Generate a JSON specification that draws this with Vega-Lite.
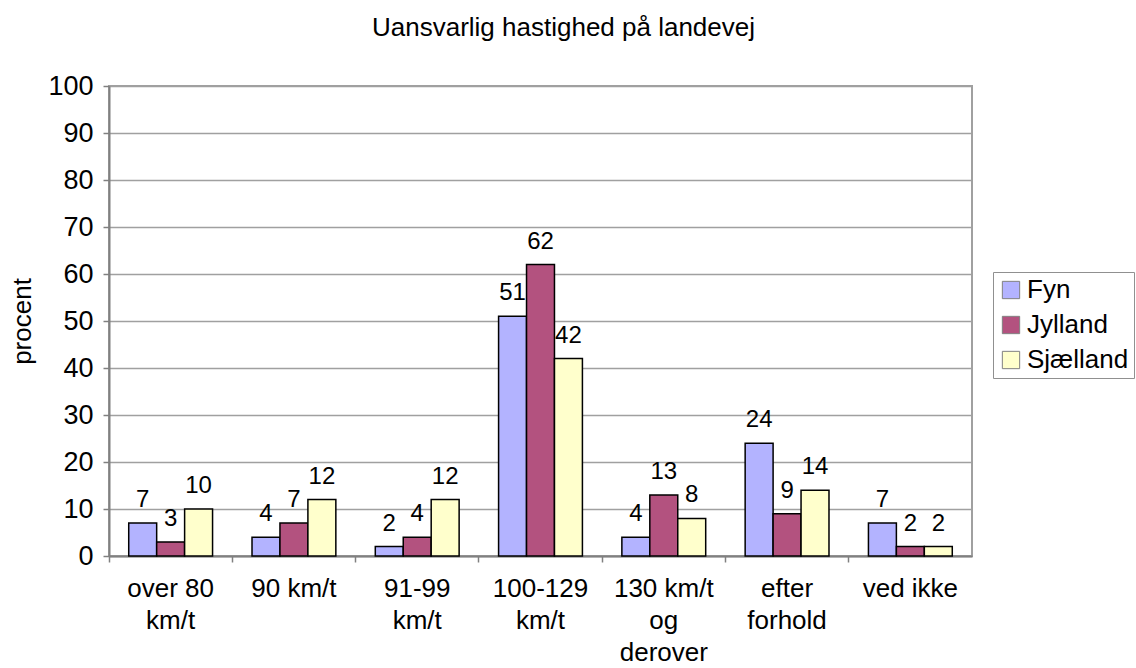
{
  "$schema": "https://vega.github.io/schema/vega-lite/v6.json",
  "autosize": "none",
  "width": 863,
  "height": 470,
  "padding": {"left": 109, "top": 86, "right": 164, "bottom": 112},
  "background": "white",
  "config": {
    "font": "Liberation Sans",
    "view": {"stroke": "#a0a0a0", "strokeWidth": 2}
  },
  "title": {
    "text": "Uansvarlig hastighed på landevej",
    "fontSize": 26,
    "fontWeight": "normal",
    "font": "Liberation Sans",
    "color": "#000000",
    "anchor": "middle",
    "dx": 23,
    "offset": 31
  },
  "resolve": {"axis": {"x": "independent"}},
  "data": {
    "values": [
      {"cat": "over 80|km/t", "region": "Fyn", "value": 7},
      {"cat": "over 80|km/t", "region": "Jylland", "value": 3},
      {"cat": "over 80|km/t", "region": "Sjælland", "value": 10},
      {"cat": "90 km/t", "region": "Fyn", "value": 4},
      {"cat": "90 km/t", "region": "Jylland", "value": 7},
      {"cat": "90 km/t", "region": "Sjælland", "value": 12},
      {"cat": "91-99|km/t", "region": "Fyn", "value": 2},
      {"cat": "91-99|km/t", "region": "Jylland", "value": 4},
      {"cat": "91-99|km/t", "region": "Sjælland", "value": 12},
      {"cat": "100-129|km/t", "region": "Fyn", "value": 51},
      {"cat": "100-129|km/t", "region": "Jylland", "value": 62},
      {"cat": "100-129|km/t", "region": "Sjælland", "value": 42},
      {"cat": "130 km/t|og|derover", "region": "Fyn", "value": 4},
      {"cat": "130 km/t|og|derover", "region": "Jylland", "value": 13},
      {"cat": "130 km/t|og|derover", "region": "Sjælland", "value": 8},
      {"cat": "efter|forhold", "region": "Fyn", "value": 24},
      {"cat": "efter|forhold", "region": "Jylland", "value": 9},
      {"cat": "efter|forhold", "region": "Sjælland", "value": 14},
      {"cat": "ved ikke", "region": "Fyn", "value": 7},
      {"cat": "ved ikke", "region": "Jylland", "value": 2},
      {"cat": "ved ikke", "region": "Sjælland", "value": 2}
    ]
  },
  "encoding": {
    "xOffset": {"field": "region", "type": "nominal", "sort": ["Fyn", "Jylland", "Sjælland"]},
    "y": {
      "field": "value",
      "type": "quantitative",
      "scale": {"domain": [0, 100], "nice": false},
      "axis": {
        "title": "procent",
        "titleFontSize": 26,
        "titleFontWeight": "normal",
        "titleColor": "#000000",
        "titlePadding": 12,
        "values": [0, 10, 20, 30, 40, 50, 60, 70, 80, 90, 100],
        "labelFontSize": 27,
        "labelColor": "#000000",
        "labelPadding": 10,
        "tickSize": 6,
        "tickColor": "#808080",
        "tickWidth": 1.5,
        "domainColor": "#808080",
        "domainWidth": 2,
        "gridColor": "#a0a0a0",
        "gridWidth": 1.5
      }
    }
  },
  "layer": [
    {
      "mark": {"type": "bar", "stroke": "#000000", "strokeWidth": 1.5},
      "encoding": {
        "x": {
          "field": "cat",
          "type": "nominal",
          "sort": null,
          "scale": {"paddingInner": 0.32, "paddingOuter": 0.16},
          "axis": {
            "title": null,
            "orient": "bottom",
            "labelExpr": "split(datum.value, '|')",
            "labelFontSize": 26,
            "labelLineHeight": 32,
            "labelColor": "#000000",
            "labelAngle": 0,
            "labelPadding": 19,
            "ticks": false,
            "domainColor": "#808080",
            "domainWidth": 2,
            "grid": false
          }
        },
        "color": {
          "field": "region",
          "type": "nominal",
          "sort": ["Fyn", "Jylland", "Sjælland"],
          "scale": {"domain": ["Fyn", "Jylland", "Sjælland"], "range": ["#b3b3ff", "#b3527f", "#ffffcc"]},
          "legend": {
            "title": null,
            "orient": "none",
            "legendX": 884,
            "legendY": 186,
            "symbolType": "square",
            "symbolSize": 300,
            "symbolStrokeColor": "#808080",
            "symbolStrokeWidth": 1,
            "labelFontSize": 26,
            "labelColor": "#000000",
            "labelOffset": 3,
            "rowPadding": 9,
            "padding": 5,
            "strokeColor": "#909090",
            "fillColor": "white"
          }
        }
      }
    },
    {
      "mark": {"type": "text", "baseline": "bottom", "dy": -11, "fontSize": 24, "color": "#000000"},
      "encoding": {
        "x": {
          "field": "cat",
          "type": "nominal",
          "sort": null,
          "axis": {
            "title": null,
            "orient": "bottom",
            "labels": false,
            "domain": false,
            "grid": false,
            "ticks": true,
            "tickSize": 6,
            "tickColor": "#808080",
            "tickWidth": 1.5,
            "bandPosition": -0.235
          }
        },
        "text": {"field": "value", "type": "quantitative"}
      }
    }
  ]
}
